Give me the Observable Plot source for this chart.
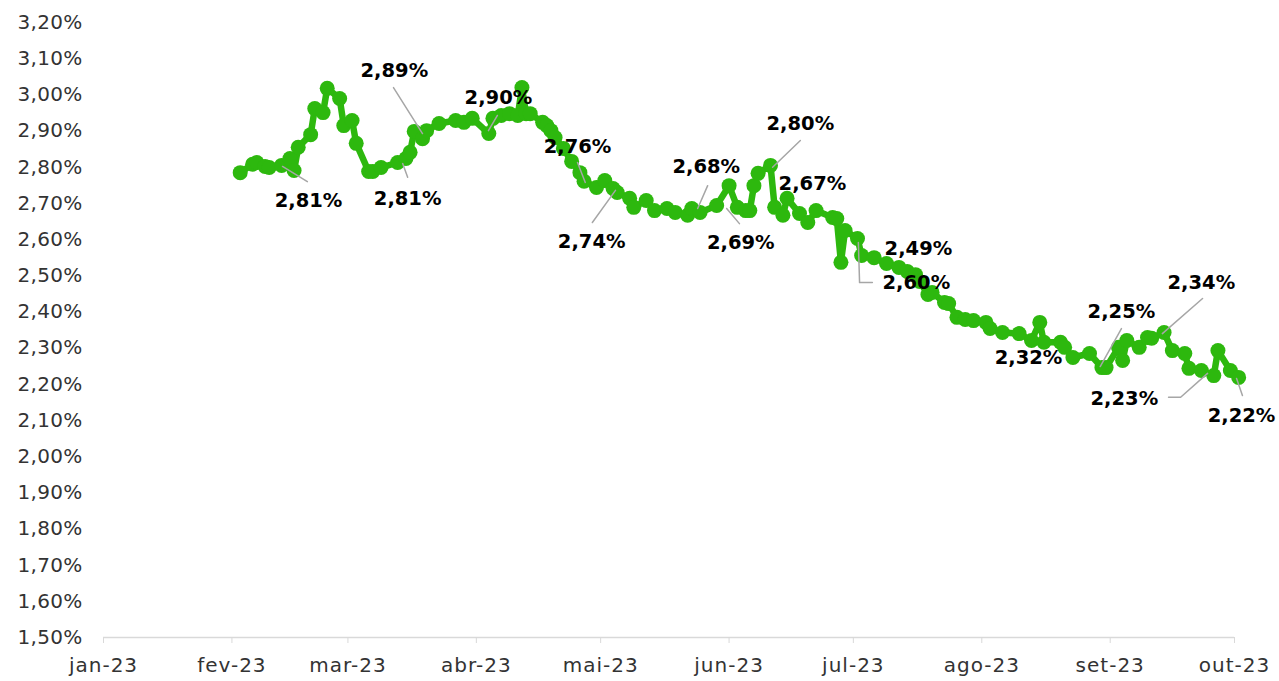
<!DOCTYPE html>
<html><head><meta charset="utf-8">
<script src="https://cdn.jsdelivr.net/npm/d3@7"></script>
<script src="https://cdn.jsdelivr.net/npm/@observablehq/plot@0.6"></script>
<style>
body{margin:0;background:#fff}
g[aria-label="y-axis tick label"] { letter-spacing: 0.3px; }
g[aria-label="x-axis tick label"] { letter-spacing: 1px; }
</style>
</head><body><div id="chart"></div>
<script>
// ---- data ----
const dates = ["2023-02-03","2023-02-06","2023-02-07","2023-02-09","2023-02-10","2023-02-13","2023-02-15","2023-02-16","2023-02-17","2023-02-20","2023-02-21","2023-02-23","2023-02-24","2023-02-27","2023-02-28","2023-03-02","2023-03-03","2023-03-06","2023-03-07","2023-03-09","2023-03-13","2023-03-15","2023-03-16","2023-03-17","2023-03-19","2023-03-20","2023-03-23","2023-03-27","2023-03-29","2023-03-31","2023-04-04","2023-04-05","2023-04-07","2023-04-09","2023-04-11","2023-04-12","2023-04-13","2023-04-14","2023-04-17","2023-04-18","2023-04-19","2023-04-20","2023-04-22","2023-04-24","2023-04-26","2023-04-27","2023-04-30","2023-05-02","2023-05-04","2023-05-05","2023-05-08","2023-05-09","2023-05-12","2023-05-14","2023-05-17","2023-05-19","2023-05-22","2023-05-23","2023-05-25","2023-05-29","2023-06-01","2023-06-03","2023-06-05","2023-06-06","2023-06-07","2023-06-08","2023-06-11","2023-06-12","2023-06-14","2023-06-15","2023-06-18","2023-06-20","2023-06-22","2023-06-26","2023-06-27","2023-06-28","2023-06-29","2023-07-02","2023-07-03","2023-07-06","2023-07-09","2023-07-12","2023-07-14","2023-07-16","2023-07-17","2023-07-19","2023-07-20","2023-07-23","2023-07-24","2023-07-26","2023-07-28","2023-07-30","2023-08-02","2023-08-03","2023-08-06","2023-08-10","2023-08-13","2023-08-15","2023-08-16","2023-08-20","2023-08-21","2023-08-23","2023-08-27","2023-08-30","2023-08-31","2023-09-03","2023-09-04","2023-09-05","2023-09-08","2023-09-10","2023-09-11","2023-09-14","2023-09-16","2023-09-19","2023-09-20","2023-09-23","2023-09-26","2023-09-27","2023-09-30","2023-10-02"];
const values = [2.785,2.808,2.813,2.802,2.799,2.805,2.824,2.791,2.855,2.890,2.962,2.951,3.018,2.990,2.915,2.929,2.866,2.788,2.788,2.799,2.813,2.824,2.841,2.899,2.879,2.901,2.921,2.929,2.924,2.935,2.893,2.935,2.943,2.948,2.943,3.020,2.948,2.948,2.924,2.915,2.901,2.882,2.852,2.816,2.785,2.761,2.744,2.763,2.741,2.730,2.714,2.689,2.708,2.680,2.686,2.675,2.667,2.686,2.675,2.694,2.749,2.689,2.680,2.680,2.749,2.783,2.805,2.689,2.667,2.714,2.672,2.647,2.680,2.661,2.658,2.537,2.625,2.603,2.556,2.550,2.534,2.523,2.512,2.503,2.484,2.448,2.454,2.426,2.423,2.385,2.379,2.376,2.371,2.354,2.343,2.340,2.321,2.371,2.316,2.316,2.302,2.274,2.285,2.246,2.246,2.302,2.266,2.321,2.302,2.329,2.327,2.343,2.293,2.285,2.244,2.238,2.224,2.293,2.238,2.219];

const yTicks = [1.5,1.6,1.7,1.8,1.9,2.0,2.1,2.2,2.3,2.4,2.5,2.6,2.7,2.8,2.9,3.0,3.1,3.2];
const monthTicks = ["2023-01-01","2023-02-01","2023-03-01","2023-04-01","2023-05-01","2023-06-01","2023-07-01","2023-08-01","2023-09-01","2023-10-01"];
const monthLabels = ["jan-23","fev-23","mar-23","abr-23","mai-23","jun-23","jul-23","ago-23","set-23","out-23"];

// annotation labels (text, label anchor date, label anchor value)
const annTexts = ["2,81%","2,81%","2,89%","2,90%","2,76%","2,74%","2,68%","2,69%","2,80%","2,67%","2,49%","2,60%","2,32%","2,25%","2,34%","2,23%","2,22%"];
const annDates = ["2023-02-19T12:00","2023-03-15T10:00","2023-03-12T05:00","2023-04-06T08:00","2023-04-25T10:00","2023-04-28T20:00","2023-05-26T12:00","2023-06-03T20:00","2023-06-18T05:00","2023-06-21T03:00","2023-07-16T17:00","2023-07-16T05:00","2023-08-12T07:00","2023-09-03T17:00","2023-09-23T00:00","2023-09-04T10:00","2023-10-02T17:00"];
const annValues = [2.708,2.714,3.067,2.993,2.857,2.595,2.802,2.592,2.921,2.755,2.575,2.481,2.274,2.401,2.481,2.161,2.114];
// leader lines (polylines in data units; label index, date, value)
const leaderIds = [0,0,1,1,2,2,3,3,4,4,5,5,6,6,7,7,8,8,11,11,11,13,13,14,14,15,15,15,16,16];
const leaderDates = ["2023-02-13T05:00","2023-02-19T05:00","2023-03-14T05:00","2023-03-15T10:00","2023-03-12T00:00","2023-03-19T00:00","2023-04-06T02:00","2023-04-03T22:00","2023-04-25T10:00","2023-04-27T07:00","2023-04-29T00:00","2023-05-04T14:00","2023-05-26T20:00","2023-05-24T10:00","2023-06-03T12:00","2023-05-31T10:00","2023-06-18T05:00","2023-06-11T12:00","2023-07-02T05:00","2023-07-02T12:00","2023-07-05T14:00","2023-09-03T17:00","2023-08-29T14:00","2023-09-23T07:00","2023-09-13T14:00","2023-09-15T02:00","2023-09-18T00:00","2023-09-24T12:00","2023-10-01T12:00","2023-10-02T22:00"];
const leaderValues = [2.802,2.760,2.810,2.772,3.020,2.893,2.943,2.901,2.813,2.758,2.647,2.736,2.749,2.686,2.644,2.686,2.874,2.800,2.592,2.481,2.481,2.354,2.249,2.437,2.340,2.164,2.164,2.230,2.216,2.169];

// ---- build tables ----
const series = dates.map((d, i) => ({date: new Date(d + "T00:00Z"), value: values[i]}));
const anns = annTexts.map((t, i) => ({text: t, date: new Date(annDates[i] + "Z"), value: annValues[i]}));
const leaders = leaderIds.map((id, i) => ({id, date: new Date(leaderDates[i] + "Z"), value: leaderValues[i]}));
const tickDates = monthTicks.map(d => new Date(d + "T00:00Z"));
const fmtPct = v => v.toFixed(2).replace(".", ",") + "%";
const green = "#2db80e";

const chart = Plot.plot({
  width: 1279,
  height: 681,
  marginLeft: 103,
  marginRight: 45,
  marginTop: 22,
  marginBottom: 44,
  style: {fontFamily: "DejaVu Sans", fontSize: "20px", background: "#fff"},
  x: {type: "utc", domain: [tickDates[0], tickDates[tickDates.length - 1]], label: null},
  y: {domain: [1.5, 3.2], label: null},
  marks: [
    Plot.axisY({ticks: yTicks, tickFormat: fmtPct, tickSize: 0, tickPadding: 21, fill: "#333", fontSize: 20, label: null}),
    Plot.ruleY([1.5], {stroke: "#d9d9d9", strokeWidth: 1.5}),
    Plot.axisX({ticks: tickDates, tickFormat: (d, i) => monthLabels[i], tickSize: 6, tickPadding: 14, stroke: "#d9d9d9", fill: "#333", fontSize: 20, label: null}),
    Plot.line(series, {x: "date", y: "value", stroke: green, strokeWidth: 6.5, strokeLinejoin: "round"}),
    Plot.dot(series, {x: "date", y: "value", r: 7.5, fill: green}),
    Plot.line(leaders, {x: "date", y: "value", z: "id", stroke: "#a6a6a6", strokeWidth: 1.5}),
    Plot.text(anns, {x: "date", y: "value", text: "text", fill: "#000", fontWeight: "bold", fontSize: 19.5})
  ]
});
document.getElementById("chart").append(chart);
</script>
</body></html>
